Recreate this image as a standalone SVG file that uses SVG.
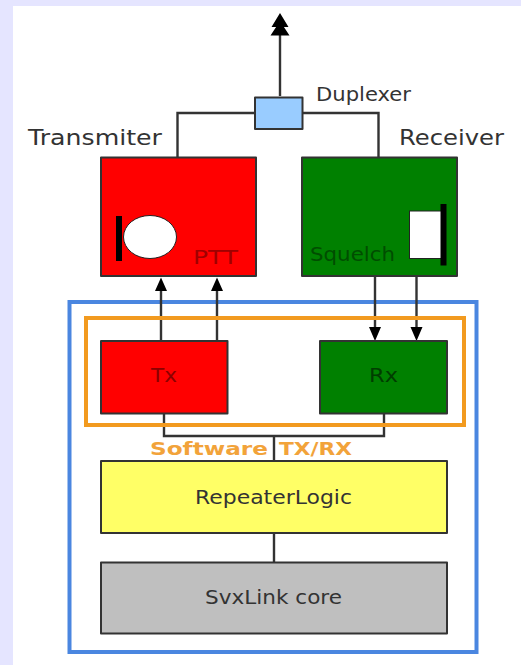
<svg xmlns="http://www.w3.org/2000/svg" width="521" height="665" viewBox="0 0 521 665">
<style>
.b{stroke:#333;stroke-width:2;stroke-linejoin:round}
.c{fill:none;stroke:#333;stroke-width:2.4}
.a{fill:#000;stroke:none}
text{font-family:"DejaVu Sans",sans-serif;font-size:19px;fill:#333}
.s{font-weight:bold;fill:#f2a33a;font-size:18px}
</style>
<rect width="521" height="665" fill="#e5e5ff"/>
<rect x="13" y="6" width="508" height="659" fill="#fff"/>
<g id="software-frame"><rect x="69.500" y="302" width="407" height="350" fill="none" stroke="#4a86e0" stroke-width="4"/></g>
<g id="connectors">
<path class="c" d="M280 96V26"/>
<path class="c" d="M255 113H177.500V157M303 113H378.500V157"/>
<path class="c" d="M161 341V289M217 341V289"/>
<path class="c" d="M375 276V328M416.500 276V328"/>
<path class="c" d="M164 413V436H384V413M274 436V461M274 533V562"/>
<path class="a" d="M280 13L288.500 27H271.500Z M280 21L289.500 35.500H270.500Z"/>
<path class="a" d="M161 277.500L167 291H155ZM217 277.500L223 291H211Z"/>
<path class="a" d="M375 341L369 327H381ZM416.500 341L410.500 327H422.500Z"/>
</g>
<g id="software-txrx"><rect x="86" y="318" width="378" height="107" fill="none" stroke="#f29a1f" stroke-width="4"/>
<text class="s" x="150" y="455" textLength="118" lengthAdjust="spacingAndGlyphs">Software</text>
<text class="s" x="279" y="455" textLength="73" lengthAdjust="spacingAndGlyphs">TX/RX</text></g>
<g id="duplexer"><rect class="b" x="255" y="97.500" width="47.500" height="31.500" fill="#99ccff"/><text x="316" y="101" textLength="95" lengthAdjust="spacingAndGlyphs">Duplexer</text></g>
<g id="transmitter"><text x="28" y="144.500" textLength="134" lengthAdjust="spacingAndGlyphs" style="font-size:20.500px">Transmiter</text><rect class="b" x="101" y="157.500" width="155" height="118.500" fill="#f00"/>
<rect x="116" y="216" width="6" height="45" fill="#000"/><ellipse cx="150" cy="237" rx="26.500" ry="21.500" fill="#fff" stroke="#222" stroke-width="1"/><text x="193" y="264" textLength="45" lengthAdjust="spacingAndGlyphs" style="fill:#a00000">PTT</text></g>
<g id="receiver"><text x="399" y="144.500" textLength="105" lengthAdjust="spacingAndGlyphs" style="font-size:20.500px">Receiver</text><rect class="b" x="302" y="157.500" width="155" height="118.500" fill="#008000"/>
<rect x="409.500" y="211" width="32" height="47.500" fill="#fff" stroke="#222" stroke-width="1"/><rect x="440.500" y="204" width="6" height="61.500" fill="#000"/><text x="310" y="261" textLength="85" lengthAdjust="spacingAndGlyphs" style="fill:#004d00">Squelch</text></g>
<g id="tx"><rect class="b" x="101" y="341" width="126.500" height="72.500" fill="#f00"/><text x="151" y="382" textLength="26" lengthAdjust="spacingAndGlyphs" style="fill:#8c0000">Tx</text></g>
<g id="rx"><rect class="b" x="320" y="341" width="127" height="72.500" fill="#008000"/><text x="369" y="382" textLength="29" lengthAdjust="spacingAndGlyphs" style="fill:#003d00">Rx</text></g>
<g id="repeaterlogic"><rect class="b" x="101" y="461" width="346" height="72" fill="#ffff66"/><text x="195" y="504" textLength="157" lengthAdjust="spacingAndGlyphs">RepeaterLogic</text></g>
<g id="svxlink-core"><rect class="b" x="101" y="562.500" width="346" height="71" fill="#bfbfbf"/><text x="205" y="604" textLength="137" lengthAdjust="spacingAndGlyphs">SvxLink core</text></g>
</svg>
